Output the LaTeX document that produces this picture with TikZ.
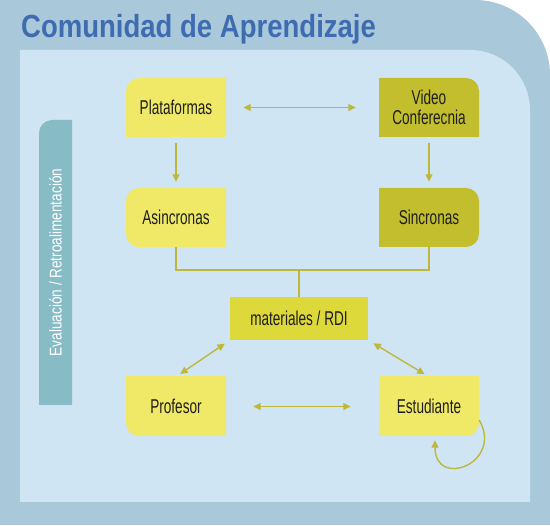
\documentclass[tikz,border=0pt]{standalone}
\usepackage{fontspec}
\usepackage{graphicx}
\usepackage{xcolor}
\usetikzlibrary{arrows.meta}
\newfontfamily\titlefont[FakeStretch=0.86]{Liberation Sans}
\newfontfamily\boxfont[FakeStretch=0.68]{Liberation Sans}
\newfontfamily\barfont[FakeStretch=0.8]{Liberation Sans}
\definecolor{frameblue}{HTML}{A9C9DA}
\definecolor{paneblue}{HTML}{D0E5F3}
\definecolor{barteal}{HTML}{87BCC6}
\definecolor{titleblue}{HTML}{3F6CB1}
\definecolor{paleyellow}{HTML}{F0E967}
\definecolor{olive}{HTML}{C2BE2E}
\definecolor{midyellow}{HTML}{DDD93A}
\definecolor{linkolive}{HTML}{BDB83C}
\definecolor{textdark}{HTML}{1E1E1E}
\tikzset{
    title/.style={font=\titlefont\bfseries\fontsize{32}{36}\selectfont, text=titleblue, inner sep=0pt},
    box/.style={minimum width=100pt, minimum height=59pt, inner sep=0pt, align=center, text=textdark, font=\boxfont\fontsize{20}{20}\selectfont},
    % one or two rounded corners, the rest sharp
    roundtl/.style={path picture={\fill[#1, rounded corners=13pt] (path picture bounding box.north west) rectangle ([shift={(20pt,-20pt)}]path picture bounding box.south east);}},
    roundtr/.style={path picture={\fill[#1, rounded corners=13pt] ([xshift=-20pt]path picture bounding box.north west) rectangle ([yshift=-20pt]path picture bounding box.south east);}},
    roundbl/.style={path picture={\fill[#1, rounded corners=13pt] ([yshift=20pt]path picture bounding box.north west) rectangle ([xshift=20pt]path picture bounding box.south east);}},
    roundbr/.style={path picture={\fill[#1, rounded corners=13pt] ([shift={(-20pt,20pt)}]path picture bounding box.north west) rectangle (path picture bounding box.south east);}},
    roundl/.style={path picture={\fill[#1, rounded corners=13pt] (path picture bounding box.north west) rectangle ([xshift=20pt]path picture bounding box.south east);}},
    roundr/.style={path picture={\fill[#1, rounded corners=13pt] ([xshift=-20pt]path picture bounding box.north west) rectangle (path picture bounding box.south east);}},
    bar/.style={minimum width=33pt, minimum height=285pt, inner sep=0pt, text=white, font=\barfont\fontsize{17}{18}\selectfont, roundtl=barteal},
    link/.style={draw=linkolive, line width=1.4pt},
    >={Triangle[length=7.5pt,width=7pt]}
}
\begin{document}
\begin{tikzpicture}[x=1pt, y=-1pt]
    \useasboundingbox (0,0) rectangle (550,526);

    % Frame
    \begin{scope}
        \clip (0,0) rectangle (550,525);
        \fill[frameblue, rounded corners=75pt] (-100,0) rectangle (550,626);
    \end{scope}
    \begin{scope}
        \clip (20,50) rectangle (530,502);
        \fill[paneblue, rounded corners=60pt] (-100,50) rectangle (530,600);
    \end{scope}

    % Title
    \node[title, anchor=base west] (title) at (21,38) {Comunidad de Aprendizaje};

    % Side bar
    \node[bar] (evalbar) at (55.5,262.5) {\rotatebox{90}{Evaluación / Retroalimentación}};

    % Tools
    \node[box, roundtl=paleyellow] (plat) at (176,107.5) {Plataformas};
    \node[box, roundtr=olive] (video) at (429,107.5) {Video\\Conferecnia};
    \node[box, roundl=paleyellow] (asinc) at (176,217.5) {Asincronas};
    \node[box, roundr=olive] (sinc) at (429,217.5) {Sincronas};

    % Materials
    \node[box, fill=midyellow, minimum width=138pt, minimum height=43pt] (mat) at (299,318.5) {materiales / RDI};

    % People
    \node[box, roundbl=paleyellow] (prof) at (176,406.5) {Profesor};
    \node[box, roundbr=paleyellow] (est) at (429,406.5) {Estudiante};

    % Connectors
    \draw[link, <->, shorten <=17pt, shorten >=23pt] (plat) -- (video);
    \draw[link, ->, shorten <=6pt, shorten >=6pt] (plat) -- (asinc);
    \draw[link, ->, shorten <=6pt, shorten >=6pt] (video) -- (sinc);
    \coordinate (join) at (299,270);
    \draw[link] (asinc.south) |- (join) -| (sinc.south);
    \draw[link] (join) -- (mat.north);
    \draw[link, <->, shorten <=6pt, shorten >=5pt] (mat.south west) -- (prof.north);
    \draw[link, <->, shorten <=6pt, shorten >=5pt] (mat.south east) -- (est.north);
    \draw[link, <->, shorten <=27pt, shorten >=28pt] (prof) -- (est);
    \draw[link, ->] ([yshift=-13.5pt]est.east) to[out=-60, in=-90, looseness=2.6] ([shift={(6pt,-4pt)}]est.south);
\end{tikzpicture}
\end{document}
